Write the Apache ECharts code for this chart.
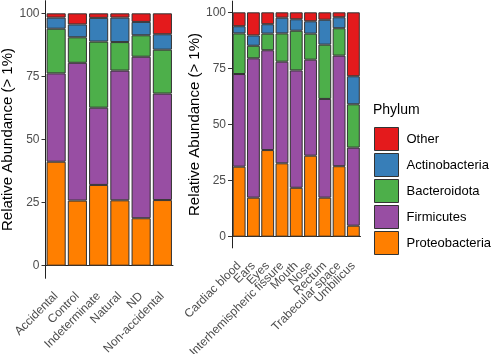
<!DOCTYPE html>
<html>
<head>
<meta charset="utf-8">
<script src="https://cdn.jsdelivr.net/npm/echarts@6/dist/echarts.min.js"></script>
<style>
  html, body { margin: 0; padding: 0; background: #fff; }
  #chart { width: 500px; height: 354px; }
</style>
</head>
<body>
<div id="chart"></div>
<script>
// categories
var groupCats = ['Accidental', 'Control', 'Indeterminate', 'Natural', 'ND', 'Non-accidental'];
var siteCats = ['Cardiac blood', 'Ears', 'Eyes', 'Interhemispheric fissure', 'Mouth', 'Nose',
  'Rectum', 'Trabecular space', 'Umbilicus'];
var phyla = ['Proteobacteria', 'Firmicutes', 'Bacteroidota', 'Actinobacteria', 'Other'];
var legendOrder = ['Other', 'Actinobacteria', 'Bacteroidota', 'Firmicutes', 'Proteobacteria'];
var yTicks = [0, 25, 50, 75, 100];

// left panel (by manner of death), % per phylum
var groupProteo = [41.2, 25.8, 32.0, 25.9, 18.8, 26.0];
var groupFirmi = [35.0, 54.6, 30.6, 51.4, 64.0, 42.2];
var groupBactero = [17.7, 10.1, 26.2, 11.3, 8.5, 17.4];
var groupActino = [4.4, 5.1, 9.4, 9.7, 5.3, 6.1];
var groupOther = [1.7, 4.4, 1.8, 1.7, 3.4, 8.3];

// right panel (by sampling site), % per phylum
var siteProteo = [31.2, 17.4, 38.6, 32.7, 21.8, 36.1, 17.4, 31.4, 4.9];
var siteFirmi = [41.3, 62.1, 44.5, 45.3, 52.3, 42.8, 44.0, 49.3, 34.8];
var siteBactero = [18.1, 5.6, 7.4, 12.6, 17.7, 11.6, 24.2, 12.2, 19.3];
var siteActino = [3.2, 4.6, 4.2, 7.0, 5.1, 5.5, 11.1, 4.9, 12.5];
var siteOther = [6.2, 10.3, 5.3, 2.4, 3.1, 4.0, 3.3, 2.2, 28.5];

var colors = {
  Other: '#E41A1C',
  Actinobacteria: '#377EB8',
  Bacteroidota: '#4DAF4A',
  Firmicutes: '#984EA3',
  Proteobacteria: '#FF7F00'
};

var panels = [
  { cats: groupCats, data: [groupProteo, groupFirmi, groupBactero, groupActino, groupOther] },
  { cats: siteCats, data: [siteProteo, siteFirmi, siteBactero, siteActino, siteOther] }
];

var chart = echarts.init(document.getElementById('chart'));

function xAxisFor(cats, idx) {
  return {
    type: 'category',
    gridIndex: idx,
    data: cats,
    axisLine: { lineStyle: { color: '#222', width: 1 } },
    axisTick: { alignWithLabel: true, length: 4, lineStyle: { color: '#333' } },
    axisLabel: {
      rotate: 45,
      interval: 0,
      margin: 16,
      color: '#4D4D4D',
      fontSize: 12,
      fontFamily: 'Liberation Sans'
    }
  };
}

function yAxisFor(idx, gap) {
  return {
    type: 'value',
    gridIndex: idx,
    min: -5,
    max: 105,
    name: 'Relative Abundance (> 1%)',
    nameLocation: 'middle',
    nameGap: gap,
    nameTextStyle: { color: '#000', fontSize: 15, fontFamily: 'Liberation Sans' },
    axisLine: { show: true, lineStyle: { color: '#222', width: 1 } },
    axisTick: { show: true, length: 4, customValues: yTicks, lineStyle: { color: '#333' } },
    axisLabel: {
      customValues: yTicks,
      margin: 6,
      color: '#4D4D4D',
      fontSize: 12,
      fontFamily: 'Liberation Sans'
    },
    splitLine: { show: false }
  };
}

var series = [];
panels.forEach(function (panel, p) {
  phyla.forEach(function (name, i) {
    series.push({
      name: name,
      type: 'bar',
      stack: 'panel' + p,
      xAxisIndex: p,
      yAxisIndex: p,
      barWidth: '90%',
      data: panel.data[i],
      itemStyle: { color: colors[name], borderColor: '#333', borderWidth: 1 },
      emphasis: { disabled: true }
    });
  });
});

var option = {
  animation: false,
  grid: [
    { left: 45.5, top: 0.7, width: 127.5, height: 277.6, outerBoundsMode: 'none' },
    { left: 232, top: 1.1, width: 128.5, height: 246.8, outerBoundsMode: 'none' }
  ],
  title: {
    text: 'Phylum',
    left: 373,
    top: 103,
    padding: 0,
    textStyle: { color: '#000', fontSize: 14, fontWeight: 'normal', fontFamily: 'Liberation Sans' }
  },
  legend: {
    data: legendOrder,
    orient: 'vertical',
    left: 374,
    top: 127,
    padding: 0,
    icon: 'rect',
    itemWidth: 24,
    itemHeight: 23,
    itemGap: 2,
    selectedMode: false,
    itemStyle: { borderColor: '#333', borderWidth: 1 },
    textStyle: { color: '#000', fontSize: 13, fontFamily: 'Liberation Sans', padding: [0, 0, 0, 3] }
  },
  xAxis: [xAxisFor(groupCats, 0), xAxisFor(siteCats, 1)],
  yAxis: [yAxisFor(0, 25), yAxisFor(1, 30)],
  series: series
};

chart.setOption(option);
</script>
</body>
</html>
